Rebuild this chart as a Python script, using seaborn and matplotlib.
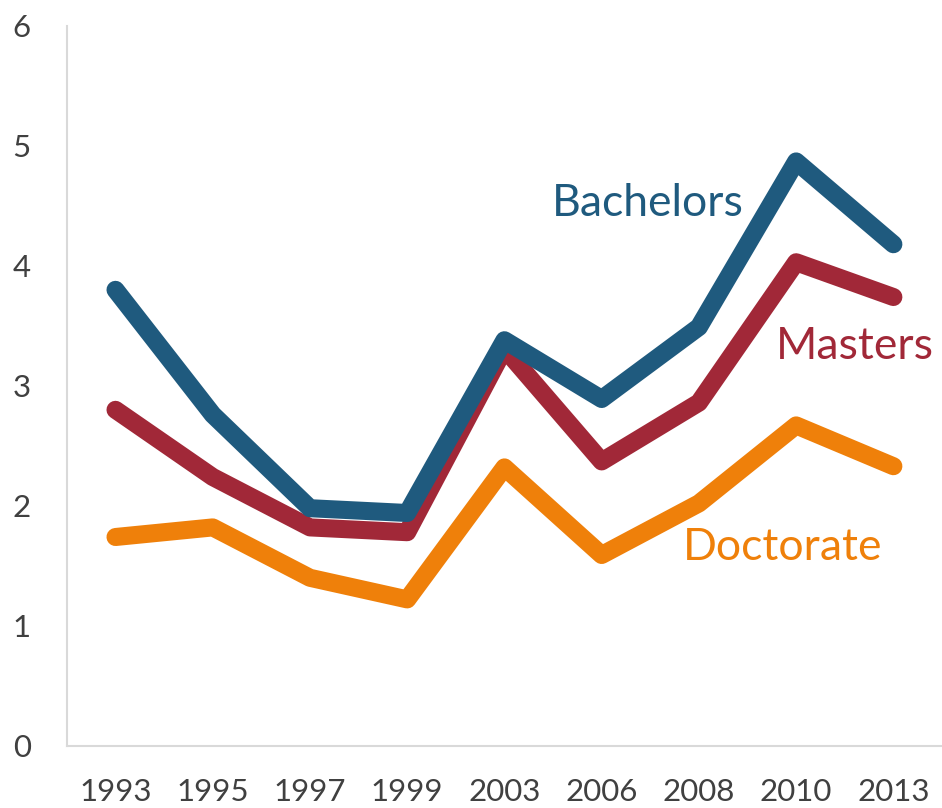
import pandas as pd
import matplotlib.pyplot as plt
import seaborn as sns

# values
years = ['1993', '1995', '1997', '1999', '2003', '2006', '2008', '2010', '2013']
bachelors = [3.80, 2.76, 1.98, 1.94, 3.38, 2.89, 3.49, 4.87, 4.18]
masters = [2.80, 2.24, 1.82, 1.78, 3.31, 2.37, 2.86, 4.03, 3.74]
doctorate = [1.74, 1.82, 1.40, 1.22, 2.32, 1.59, 2.02, 2.67, 2.33]

series_names = ['Doctorate', 'Masters', 'Bachelors']
colors = {'Bachelors': '#1F5A7E', 'Masters': '#A12838', 'Doctorate': '#EF800A'}

df = pd.DataFrame({
    'Year': years * 3,
    'Value': doctorate + masters + bachelors,
    'Degree': [n for n in series_names for _ in years],
})

sns.set_style('white')
plt.rcParams['font.family'] = ['Lato', 'DejaVu Sans']

fig = plt.figure(figsize=(9.42, 8.08), dpi=100)
ax = fig.add_axes([0.071, 0.077, 0.929, 0.891])

sns.lineplot(data=df, x='Year', y='Value', hue='Degree', hue_order=series_names,
             palette=colors, linewidth=13, sort=False, legend=False, ax=ax,
             solid_capstyle='round', solid_joinstyle='round')

ax.set_ylim(0, 6)
ax.set_xlim(-0.5, len(years) - 0.5)
ax.set_yticks(range(0, 7))
ax.set_xlabel('')
ax.set_ylabel('')

for side in ['top', 'right']:
    ax.spines[side].set_visible(False)
for side in ['left', 'bottom']:
    ax.spines[side].set_color('#D9D9D9')
    ax.spines[side].set_linewidth(1.5)

ax.tick_params(axis='both', length=0, labelsize=22.5, labelcolor='#404040')
ax.tick_params(axis='x', pad=23)
ax.tick_params(axis='y', pad=26)

# direct labels instead of a legend
ax.text(4.49, 4.52, 'Bachelors', color=colors['Bachelors'], fontsize=32, va='center')
ax.text(6.79, 3.33, 'Masters', color=colors['Masters'], fontsize=32, va='center')
ax.text(5.83, 1.65, 'Doctorate', color=colors['Doctorate'], fontsize=32, va='center')

plt.savefig('out.png', dpi=100)
